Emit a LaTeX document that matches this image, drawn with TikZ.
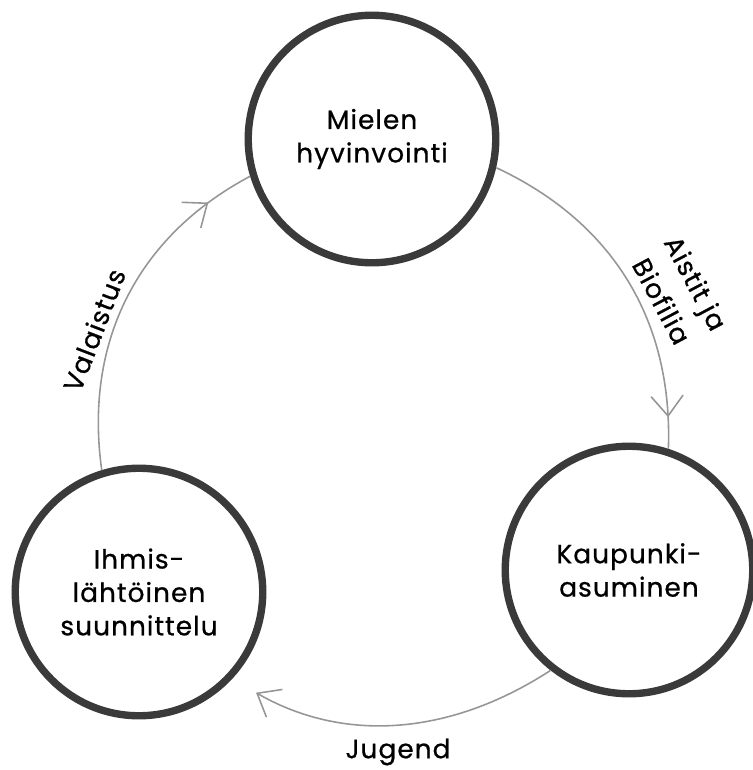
\documentclass[tikz,border=0pt]{standalone}
\usepackage{fontspec}
\setmainfont{Poppins}[FakeBold=0.7,LetterSpace=4]
\usetikzlibrary{arrows.meta,decorations.markings}
\definecolor{pencil}{RGB}{58,58,58}
\definecolor{flowline}{RGB}{150,150,150}

\begin{document}
\begin{tikzpicture}[
  font=\fontsize{15}{19}\selectfont,
  ring/.style={circle,draw=pencil,line width=4.2pt,minimum size=4.95cm,
               inner sep=0pt,align=center,fill=white},
  flow/.style={draw=flowline,line width=0.9pt},
  barbat/.style={postaction={decorate},decoration={markings,
               mark=at position #1 with {\arrow{Straight Barb[length=4mm,width=6.4mm]}}}},
  lbl/.style={align=center,inner sep=1pt}
]
\useasboundingbox (0,0) rectangle (15.06,-15.4);

\node[ring] (mieli) at (7.44,-2.78) {Mielen\\hyvinvointi};
\node[ring] (kaup)  at (12.58,-11.40) {Kaupunki-\\asuminen};
\node[ring] (ihmis) at (2.78,-11.84) {Ihmis-\\lähtöinen\\suunnittelu};

\draw[flow,barbat=0.91] (mieli.-13) to[out=-25,in=88] (kaup.72);
\draw[flow,shorten >=5.5mm,-{Straight Barb[length=4mm,width=6.4mm]}]
  (kaup.232) to[out=213,in=-30] (ihmis.-43);
\draw[flow,barbat=0.86] (ihmis.107) to[out=98,in=208] (mieli.197);

\node[lbl,rotate=-62] (aistit) at (13.58,-5.84) {Aistit ja\\[3pt]Biofilia};
\node[lbl] (jugend) at (7.96,-15.04) {Jugend};
\node[lbl,rotate=69] (valo) at (1.88,-6.6) {Valaistus};
\end{tikzpicture}
\end{document}
